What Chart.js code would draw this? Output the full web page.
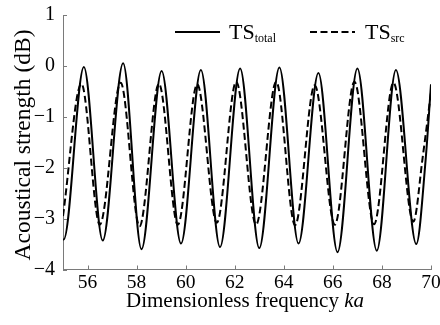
<!DOCTYPE html>
<html><head><meta charset="utf-8">
<script src="https://cdn.jsdelivr.net/npm/chart.js@4"></script>
<style>html,body{margin:0;padding:0;background:#fff;}#wrap{width:440px;height:325px;position:relative;}</style>
</head><body><div id="wrap"><canvas id="c" width="440" height="325"></canvas></div>
<script>
// ---- data ----
const kaTotal = [55.0, 55.03, 55.85, 56.62, 57.45, 58.2, 59.02, 59.81, 60.62, 61.4, 62.22, 63.0, 63.82, 64.6, 65.41, 66.19, 67.0, 67.79, 68.57, 69.4, 69.78, 70.0];
const tsTotal = [-3.40, -3.41, -0.02, -3.43, 0.05, -3.60, -0.10, -3.49, -0.08, -3.56, -0.05, -3.58, -0.03, -3.49, -0.14, -3.66, -0.05, -3.63, -0.08, -3.50, -1.85, -0.36];
const kaSrc = [55.0, 55.75, 56.5, 57.35, 58.12, 58.91, 59.68, 60.47, 61.27, 62.06, 62.87, 63.69, 64.46, 65.26, 66.08, 66.88, 67.68, 68.47, 69.28, 69.66, 70.0];
const tsSrc = [-2.95, -0.35, -3.12, -0.33, -3.15, -0.35, -3.12, -0.36, -3.08, -0.31, -3.12, -0.31, -3.13, -0.38, -3.12, -0.31, -3.11, -0.33, -3.06, -1.80, -0.52];
const xTicks = [56, 58, 60, 62, 64, 66, 68, 70];
const yTicks = [-4, -3, -2, -1, 0, 1];
const legendMain = ['TS', 'TS'];
const legendSub = ['total', 'src'];
const xTitleMain = 'Dimensionless frequency ';
const xTitleItalic = 'ka';
const yTitle = 'Acoustical strength (dB)';

const FONT = "'Liberation Serif', 'Times New Roman', serif";
const AXIS = '#7a7a7a';

const toPts = (xs, ys) => xs.map((x, i) => ({x: x, y: ys[i]}));

const inwardTicks = {
  id: 'inwardTicks',
  afterDraw(chart) {
    const {ctx, chartArea: a, scales: {x, y}} = chart;
    ctx.save();
    ctx.strokeStyle = AXIS; ctx.lineWidth = 1;
    ctx.beginPath();
    xTicks.forEach(v => { const px = Math.round(x.getPixelForValue(v)) + 0.5; ctx.moveTo(px, a.bottom); ctx.lineTo(px, a.bottom - 4); });
    yTicks.forEach(v => { const py = Math.round(y.getPixelForValue(v)) + 0.5; ctx.moveTo(a.left, py); ctx.lineTo(a.left + 4, py); });
    ctx.stroke();
    ctx.restore();
  }
};

const titlesPlugin = {
  id: 'axisTitles',
  afterDraw(chart) {
    const {ctx, chartArea: a} = chart;
    ctx.save();
    ctx.fillStyle = '#000';
    ctx.textBaseline = 'alphabetic';
    // x title with italic "ka"
    ctx.font = '21px ' + FONT;
    const w1 = ctx.measureText(xTitleMain).width;
    ctx.font = 'italic 21px ' + FONT;
    const w2 = ctx.measureText(xTitleItalic).width;
    const x0 = (a.left + a.right) / 2 - (w1 + w2) / 2 - 2;
    ctx.font = '21px ' + FONT;
    ctx.textAlign = 'left';
    ctx.fillText(xTitleMain, x0, 307);
    ctx.font = 'italic 21px ' + FONT;
    ctx.fillText(xTitleItalic, x0 + w1, 307);
    // y title, rotated
    ctx.translate(30, 145);
    ctx.rotate(-Math.PI / 2);
    ctx.font = '23.5px ' + FONT;
    ctx.textAlign = 'center';
    ctx.fillText(yTitle, 0, 0);
    ctx.restore();
  }
};

const legendPlugin = {
  id: 'subLegend',
  afterDraw(chart) {
    const {ctx} = chart;
    const items = [
      {x0: 175, x1: 220, tx: 229, dash: []},
      {x0: 310, x1: 355, tx: 365, dash: [7, 3.5]}
    ];
    ctx.save();
    items.forEach((it, i) => {
      const ds = chart.data.datasets[i];
      ctx.strokeStyle = ds.borderColor; ctx.lineWidth = ds.borderWidth;
      ctx.setLineDash(it.dash);
      ctx.beginPath(); ctx.moveTo(it.x0, 32); ctx.lineTo(it.x1, 32); ctx.stroke();
      ctx.setLineDash([]);
      ctx.fillStyle = '#000'; ctx.textAlign = 'left'; ctx.textBaseline = 'alphabetic';
      ctx.font = '22px ' + FONT;
      ctx.fillText(legendMain[i], it.tx, 39);
      const w = ctx.measureText(legendMain[i]).width;
      ctx.font = '12px ' + FONT;
      ctx.fillText(legendSub[i], it.tx + w, 42);
    });
    ctx.restore();
  }
};

new Chart(document.getElementById('c'), {
  type: 'line',
  data: {
    datasets: [
      {label: legendMain[0] + legendSub[0], data: toPts(kaTotal, tsTotal), borderColor: '#000', borderWidth: 2, pointRadius: 0, fill: false, cubicInterpolationMode: 'monotone'},
      {label: legendMain[1] + legendSub[1], data: toPts(kaSrc, tsSrc), borderColor: '#000', borderWidth: 2, borderDash: [7, 3.5], pointRadius: 0, fill: false, cubicInterpolationMode: 'monotone'}
    ]
  },
  options: {
    responsive: false, animation: false, devicePixelRatio: 1,
    layout: {padding: 0},
    plugins: {legend: {display: false}, tooltip: {enabled: false}},
    scales: {
      x: {
        type: 'linear', min: 55, max: 70,
        afterBuildTicks: s => { s.ticks = xTicks.map(v => ({value: v})); },
        afterFit: s => { s.height = 55.5; s.paddingLeft = 0; s.paddingRight = 9; },
        grid: {display: true, drawOnChartArea: false, drawTicks: false},
        border: {display: true, color: AXIS, width: 1},
        ticks: {font: {family: FONT, size: 19.5}, color: '#000', padding: 2, maxRotation: 0, autoSkip: false}
      },
      y: {
        type: 'linear', min: -4, max: 1,
        afterBuildTicks: s => { s.ticks = yTicks.map(v => ({value: v})); },
        afterFit: s => { s.width = 63; s.paddingTop = 15; s.paddingBottom = 0; },
        grid: {display: true, drawOnChartArea: false, drawTicks: false},
        border: {display: true, color: AXIS, width: 1},
        ticks: {font: {family: FONT, size: 20}, color: '#000', padding: 8, callback: v => String(v).replace('-', '\u2212')}
      }
    }
  },
  plugins: [inwardTicks, titlesPlugin, legendPlugin]
});
</script></body></html>
